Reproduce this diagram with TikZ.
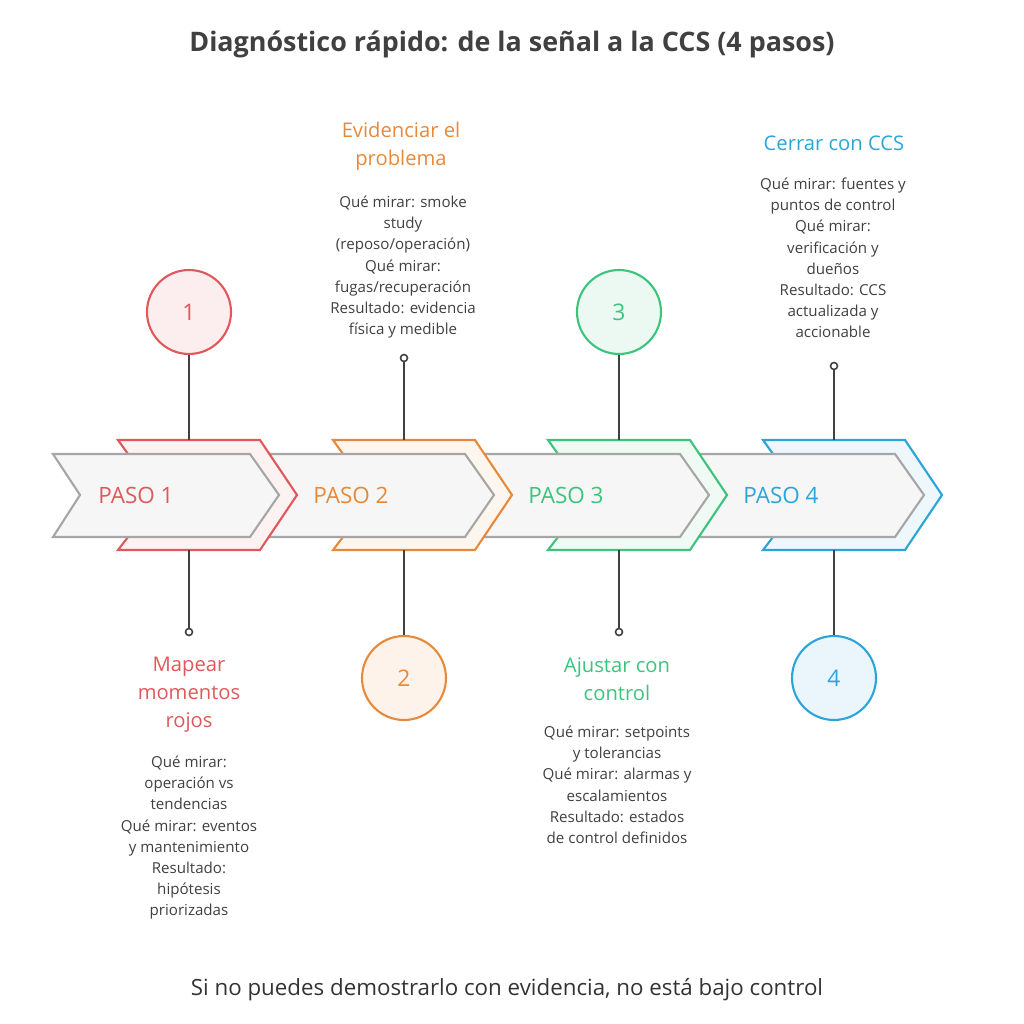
\documentclass[tikz,border=0pt]{standalone}
\usepackage{fontspec}
\setmainfont{Open Sans}
\begin{document}
\begin{tikzpicture}[x=0.02cm,y=-0.02cm,
    chev/.style={draw=gray!70, line width=1.2pt, fill=gray!7, line join=miter},
    back/.style={line width=1.2pt, line join=miter},
    num/.style={circle, draw=#1, line width=1.2pt, fill=#1!10, minimum size=1.68cm, text=#1, font=\fontsize{13}{15}\selectfont},
    tit/.style={align=center, text=#1, font=\fontsize{11.5}{16}\selectfont},
    body/.style={align=center, text=black!75, font=\fontsize{8.6}{12}\selectfont},
    paso/.style={text=#1, font=\fontsize{12.8}{15}\selectfont},
    stem/.style={draw=black!75, line width=0.9pt},
    dot/.style={circle, draw=black!75, fill=white, line width=0.9pt, inner sep=0pt, minimum size=0.14cm}]
  \definecolor{cRed}{HTML}{E0585B}
  \definecolor{cOra}{HTML}{E8893A}
  \definecolor{cGre}{HTML}{3CC47C}
  \definecolor{cBlu}{HTML}{2BA5D8}
  \useasboundingbox (0,0) rectangle (1024,1024);

  % title
  \node[font=\fontsize{15.3}{18}\selectfont\bfseries, text=black!75] (title) at (512,44) {Diagnóstico rápido: de la señal a la CCS (4 pasos)};

  % chevrons (back to front)
  \foreach \i/\c in {3/cBlu,2/cGre,1/cOra,0/cRed}{
    \pgfmathsetmacro{\dx}{215*\i}
    \begin{scope}[xshift=\dx*0.02cm]
      \draw[back, draw=\c, fill=\c!8] (118,440) -- (260,440) -- (297,495) -- (260,550) -- (118,550) -- (128,537) -- (128,454) -- cycle;
      \draw[chev] (53,454) -- (250,454) -- (279,495) -- (250,537) -- (53,537) -- (80,495) -- cycle;
    \end{scope}
  }
  \node[paso=cRed] (p1) at (136,495) {PASO 1};
  \node[paso=cOra] (p2) at (351,495) {PASO 2};
  \node[paso=cGre] (p3) at (566,495) {PASO 3};
  \node[paso=cBlu] (p4) at (781,495) {PASO 4};

  % numbers and stems
  \node[num=cRed] (n1) at (189,312) {1};
  \node[num=cOra] (n2) at (404,678) {2};
  \node[num=cGre] (n3) at (619,312) {3};
  \node[num=cBlu] (n4) at (834,678) {4};
  \coordinate (t1) at (189,440); \coordinate (b1) at (189,550);
  \coordinate (t2) at (404,440); \coordinate (b2) at (404,550);
  \coordinate (t3) at (619,440); \coordinate (b3) at (619,550);
  \coordinate (t4) at (834,440); \coordinate (b4) at (834,550);
  \node[dot] (d1) at (189,632) {};
  \node[dot] (d2) at (404,358) {};
  \node[dot] (d3) at (619,632) {};
  \node[dot] (d4) at (834,366) {};
  \draw[stem] (n1) -- (t1);
  \draw[stem] (b1) -- (d1);
  \draw[stem] (d2) -- (t2);
  \draw[stem] (b2) -- (n2);
  \draw[stem] (n3) -- (t3);
  \draw[stem] (b3) -- (d3);
  \draw[stem] (d4) -- (t4);
  \draw[stem] (b4) -- (n4);

  % texts
  \node[tit=cRed, anchor=north] (h1) at (189,651) {Mapear\\momentos\\rojos};
  \node[body, anchor=north] (x1) at (189,750) {Qué mirar:\\operación vs\\tendencias\\Qué mirar: eventos\\y mantenimiento\\Resultado:\\hipótesis\\priorizadas};
  \node[tit=cOra, anchor=north] (h2) at (401,116) {Evidenciar el\\problema};
  \node[body, anchor=north] (x2) at (403,190) {Qué mirar: smoke\\study\\(reposo/operación)\\Qué mirar:\\fugas/recuperación\\Resultado: evidencia\\física y medible};
  \node[tit=cGre, anchor=north] (h3) at (617,651) {Ajustar con\\control};
  \node[body, anchor=north] (x3) at (617,720) {Qué mirar: setpoints\\y tolerancias\\Qué mirar: alarmas y\\escalamientos\\Resultado: estados\\de control definidos};
  \node[tit=cBlu, anchor=north] (h4) at (834,130) {Cerrar con CCS};
  \node[body, anchor=north] (x4) at (833,172) {Qué mirar: fuentes y\\puntos de control\\Qué mirar:\\verificación y\\dueños\\Resultado: CCS\\actualizada y\\accionable};

  % footer
  \node[text=black!80, font=\fontsize{12.7}{15}\selectfont] (foot) at (507,990) {Si no puedes demostrarlo con evidencia, no está bajo control};
\end{tikzpicture}
\end{document}
